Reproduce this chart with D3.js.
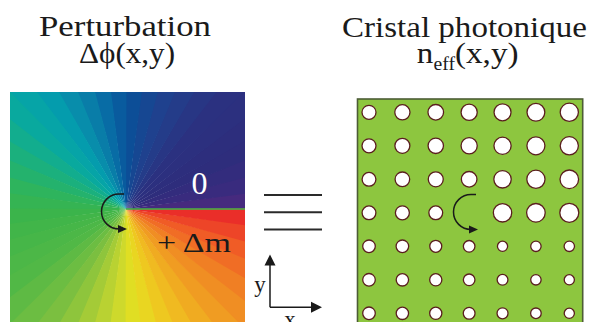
<!DOCTYPE html>
<html>
<head>
<meta charset="utf-8">
<script src="https://cdn.jsdelivr.net/npm/d3@7"></script>
<style>
  html, body { margin: 0; padding: 0; background: #fff; }
  svg { display: block; }
</style>
</head>
<body>
<script>
// ---- data ----
const phaseStopAngles = [0, 8, 25, 50, 72, 88, 100, 112, 126, 140, 155, 170, 185, 215, 238, 252, 266, 276, 292, 308, 325, 342, 360];
const phaseStopColors = ["#4e2a7e", "#3c2b7e", "#2e2d7c", "#2b3180", "#1f428e", "#0a4f98", "#0869a4", "#0a84aa", "#03a0ae", "#0aaa9c", "#1cb07a", "#30b45a", "#3cb44a", "#52b846", "#7ec03f", "#a6cc37", "#cdd92c", "#e6e021", "#f0c220", "#f0a222", "#f08224", "#f05a26", "#e8222a"];
const wedgeCount = 48;

const holeCols = [0, 1, 2, 3, 4, 5, 6];
const holeRows = [0, 1, 2, 3, 4, 5, 6];
const holeRadii = [
  [7.0, 7.6, 7.8, 8.1, 8.5, 8.9, 9.1],
  [7.0, 7.5, 7.7, 8.1, 8.6, 9.0, 9.1],
  [6.9, 7.3, 7.5, 7.8, 8.7, 9.1, 9.3],
  [6.9, 7.0, 6.9, null, 9.2, 9.3, 9.5],
  [6.3, 6.3, 6.0, 5.8, 5.1, 5.2, 5.2],
  [6.3, 6.2, 6.1, 5.8, 5.4, 5.2, 5.1],
  [6.3, 6.2, 6.1, 5.9, 5.5, 5.3, 5.1]
];

const titles = {
  left: ["Perturbation", "Δϕ(x,y)"],
  right: ["Cristal photonique", "n", "eff", "(x,y)"]
};
const phaseLabels = ["0", "+ Δm"];
const axisLabels = ["x", "y"];

// ---- drawing ----
const W = 590, H = 322;
const FONT = "'Liberation Serif', 'DejaVu Serif', 'Times New Roman', Times, serif";
const svg = d3.select("body").append("svg").attr("width", W).attr("height", H)
  .attr("font-family", FONT).style("font-family", FONT);
const defs = svg.append("defs");

// Left panel: phase vortex
const L = { x0: 10, y0: 92, x1: 245, cx: 126, cy: 209 };
defs.append("clipPath").attr("id", "clipL")
  .append("rect").attr("x", L.x0).attr("y", L.y0).attr("width", L.x1 - L.x0).attr("height", 322 - L.y0);

const phaseColor = d3.scaleLinear().domain(phaseStopAngles).range(phaseStopColors).interpolate(d3.interpolateRgb);
const wedgeAngle = d3.scaleLinear().domain([0, wedgeCount]).range([0, 360]);
const arc = d3.arc().innerRadius(0).outerRadius(400);
const wedges = d3.range(wedgeCount).map(i => ({ a0: wedgeAngle(i), a1: wedgeAngle(i + 1) }));
const toRad = d => d * Math.PI / 180;

const gL = svg.append("g").attr("clip-path", "url(#clipL)");
gL.append("g").attr("transform", `translate(${L.cx},${L.cy})`)
  .selectAll("path").data(wedges).join("path")
  .attr("d", d => arc({ startAngle: Math.PI / 2 - toRad(d.a1) - 0.004, endAngle: Math.PI / 2 - toRad(d.a0) + 0.004 }))
  .attr("fill", d => phaseColor((d.a0 + d.a1) / 2));
gL.append("line").attr("x1", L.cx).attr("x2", L.x1).attr("y1", L.cy).attr("y2", L.cy)
  .attr("stroke", "#3cb44a").attr("stroke-width", 1.4);

function arrowHead(g, x, y, dir, len, wid) {
  let pts;
  if (dir === "right") pts = [[x, y], [x - len, y - wid / 2], [x - len, y + wid / 2]];
  else pts = [[x, y], [x - wid / 2, y + len], [x + wid / 2, y + len]];
  g.append("path").attr("d", d3.line()(pts) + "Z").attr("fill", "#1a1a1a");
}
function curlArrow(g, cx, cy, r, tipX) {
  const p = d3.path();
  p.moveTo(cx + 5, cy - r);
  p.lineTo(cx, cy - r);
  p.arc(cx, cy, r, -Math.PI / 2, Math.PI / 2, true);
  p.lineTo(tipX - 6, cy + r);
  g.append("path").attr("d", p.toString()).attr("fill", "none").attr("stroke", "#1a1a1a").attr("stroke-width", 1.5);
  arrowHead(g, tipX, cy + r, "right", 9, 8);
}
curlArrow(svg, 119, 211.5, 17.5, 127);

svg.append("text").attr("x", 199.5).attr("y", 194).attr("text-anchor", "middle")
  .attr("font-size", 32).attr("fill", "#ffffff").text(phaseLabels[0]);
svg.append("text").attr("x", 157).attr("y", 251.7)
  .attr("font-size", 28).attr("fill", "#1a1a1a")
  .attr("textLength", 74).attr("lengthAdjust", "spacingAndGlyphs").text(phaseLabels[1]);

// Titles
svg.append("text").attr("x", 39).attr("y", 36).attr("font-size", 29).attr("fill", "#1a1a1a")
  .attr("textLength", 172).attr("lengthAdjust", "spacingAndGlyphs").text(titles.left[0]);
svg.append("text").attr("x", 79).attr("y", 63).attr("font-size", 29).attr("fill", "#1a1a1a")
  .attr("textLength", 96).attr("lengthAdjust", "spacingAndGlyphs").text(titles.left[1]);
svg.append("text").attr("x", 342).attr("y", 36.5).attr("font-size", 29).attr("fill", "#1a1a1a")
  .attr("textLength", 245).attr("lengthAdjust", "spacingAndGlyphs").text(titles.right[0]);
svg.append("text").attr("x", 416.7).attr("y", 63).attr("font-size", 29).attr("fill", "#1a1a1a")
  .attr("textLength", 16.5).attr("lengthAdjust", "spacingAndGlyphs").text(titles.right[1]);
svg.append("text").attr("x", 433.5).attr("y", 70).attr("font-size", 18).attr("fill", "#1a1a1a")
  .attr("textLength", 21.5).attr("lengthAdjust", "spacingAndGlyphs").text(titles.right[2]);
svg.append("text").attr("x", 455).attr("y", 63).attr("font-size", 29).attr("fill", "#1a1a1a")
  .attr("textLength", 63.5).attr("lengthAdjust", "spacingAndGlyphs").text(titles.right[3]);

// Equivalence sign
const eqY = d3.scalePoint().domain([0, 1, 2]).range([195, 229.5]);
svg.selectAll("line.eq").data([0, 1, 2]).join("line").attr("class", "eq")
  .attr("x1", 264).attr("x2", 322).attr("y1", d => eqY(d)).attr("y2", d => eqY(d))
  .attr("stroke", "#2a2a2a").attr("stroke-width", 2.2);

// Axes indicator
const ax = { x: 270, y: 307.3 };
svg.append("line").attr("x1", ax.x).attr("x2", ax.x).attr("y1", ax.y).attr("y2", 262)
  .attr("stroke", "#1a1a1a").attr("stroke-width", 1.5);
svg.append("line").attr("x1", ax.x).attr("x2", 314).attr("y1", ax.y).attr("y2", ax.y)
  .attr("stroke", "#1a1a1a").attr("stroke-width", 1.5);
arrowHead(svg, ax.x, 254.5, "up", 11, 11);
arrowHead(svg, 322, ax.y, "right", 11, 11);
svg.append("text").attr("x", 260).attr("y", 292).attr("text-anchor", "middle")
  .attr("font-size", 23).attr("fill", "#1a1a1a").text(axisLabels[1]);
svg.append("text").attr("x", 290).attr("y", 327).attr("text-anchor", "middle")
  .attr("font-size", 23).attr("fill", "#1a1a1a").text(axisLabels[0]);

// Right panel: photonic crystal
const R = { x0: 357.5, y0: 99, x1: 582.7 };
svg.append("rect").attr("x", R.x0).attr("y", R.y0).attr("width", R.x1 - R.x0).attr("height", 260)
  .attr("fill", "#8dc63f").attr("stroke", "#4d5c36").attr("stroke-width", 1.6);
const colX = d3.scalePoint().domain(holeCols).range([369, 569.3]);
const rowY = d3.scalePoint().domain(holeRows).range([112.3, 313.3]);
const holes = [];
holeRows.forEach(r => holeCols.forEach(c => { if (holeRadii[r][c] != null) holes.push({ r, c, rad: holeRadii[r][c] }); }));
svg.append("g").selectAll("circle").data(holes).join("circle")
  .attr("cx", d => colX(d.c)).attr("cy", d => rowY(d.r)).attr("r", d => d.rad)
  .attr("fill", "#ffffff").attr("stroke", "#5a1e1e").attr("stroke-width", 1.3);
curlArrow(svg, 471, 212, 17.5, 478);
</script>
</body>
</html>
